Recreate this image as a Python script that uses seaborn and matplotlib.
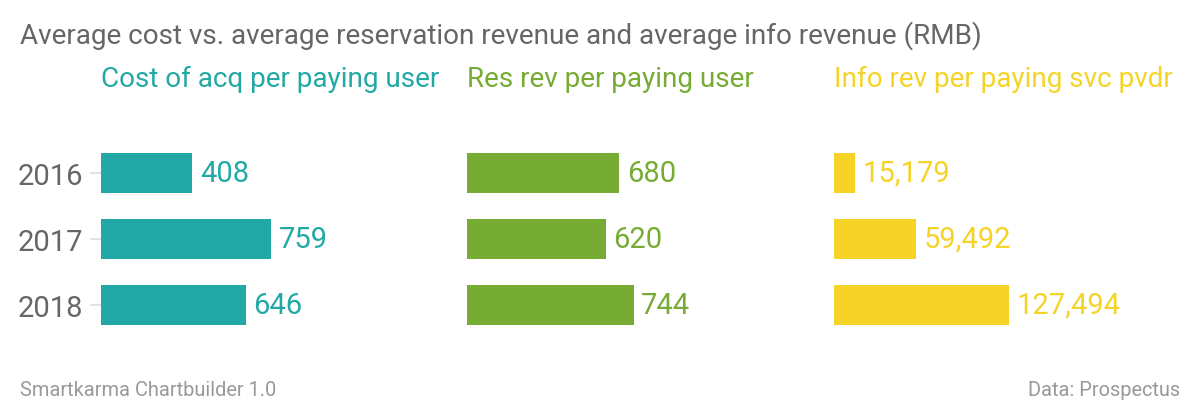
import matplotlib
matplotlib.use('Agg')
import matplotlib.pyplot as plt
import seaborn as sns
import pandas as pd

# Dados
years = ['2016', '2017', '2018']
cost_acq = [408, 759, 646]
res_rev = [680, 620, 744]
info_rev = [15179, 59492, 127494]

panel_titles = ['Cost of acq per paying user', 'Res rev per paying user', 'Info rev per paying svc pvdr']
panel_colors = ['#23A9A5', '#76AC33', '#F5D327']
series = [cost_acq, res_rev, info_rev]
x_max = [1339, 1339, 218560]

sns.set_theme(style='white')
plt.rcParams['font.family'] = ['Roboto', 'DejaVu Sans']

W, H = 1200, 406
fig = plt.figure(figsize=(W / 100, H / 100), dpi=100)

# Titulo e rodape
fig.text(20 / W, 1 - 43.5 / H, 'Average cost vs. average reservation revenue and average info revenue (RMB)',
         fontsize=20.1, color='#666666', va='baseline', ha='left')
fig.text(20 / W, 9.5 / H, 'Smartkarma Chartbuilder 1.0', fontsize=14.4, color='#999999', va='baseline')
fig.text(1180 / W, 9.5 / H, 'Data: Prospectus', fontsize=14.4, color='#999999', va='baseline', ha='right')

lefts = [101, 467, 834]
for i, (vals, title, color) in enumerate(zip(series, panel_titles, panel_colors)):
    ax = fig.add_axes([lefts[i] / W, (H - 338.8) / H, 300 / W, 198 / H])
    df = pd.DataFrame({'year': years, 'value': vals})
    sns.barplot(data=df, x='value', y='year', color=color, width=0.6, saturation=1,
                linewidth=0, ax=ax)
    ax.set_xlim(0, x_max[i])
    ax.set_ylim(2.5, -0.5)
    ax.bar_label(ax.containers[0], labels=[f'{v:,.0f}' for v in vals],
                 padding=5.5, fontsize=21, color=color)
    ax.set_xlabel('')
    ax.set_ylabel('')
    ax.set_xticks([])
    sns.despine(ax=ax, left=True, bottom=True)
    if i == 0:
        ax.tick_params(axis='y', length=8, width=1.2, color='#dddddd', pad=5, labelsize=21,
                       labelcolor='#666666', left=True)
    else:
        ax.set_yticks([])
    fig.text(lefts[i] / W, 1 - 87 / H, title, fontsize=20.1, color=color, va='baseline', ha='left')

fig.savefig('out.png', dpi=100)
